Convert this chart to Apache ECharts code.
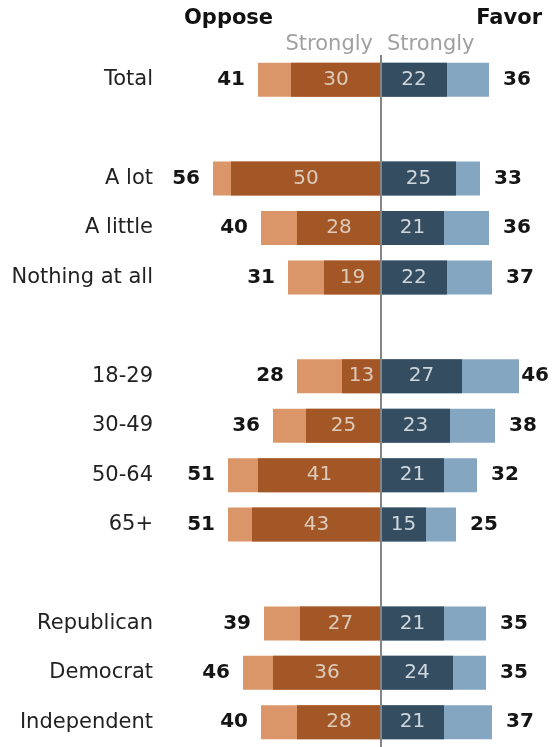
<!DOCTYPE html>
<html>
<head>
<meta charset="utf-8">
<script src="https://cdn.jsdelivr.net/npm/echarts@6/dist/echarts.min.js"></script>
<style>
  html, body { margin: 0; padding: 0; background: #fff; }
  #chart { width: 553px; height: 747px; }
</style>
</head>
<body>
<div id="chart"></div>
<script>
// Rows top to bottom; the blank names are spacer rows between groups
const categories = ['Total', ' ', 'A lot', 'A little', 'Nothing at all', '  ',
  '18-29', '30-49', '50-64', '65+', '   ', 'Republican', 'Democrat', 'Independent'];
const opposeTotal  = [41, null, 56, 40, 31, null, 28, 36, 51, 51, null, 39, 46, 40];
const opposeStrong = [30, null, 50, 28, 19, null, 13, 25, 41, 43, null, 27, 36, 28];
const favorStrong  = [22, null, 25, 21, 22, null, 27, 23, 21, 15, null, 21, 24, 21];
const favorTotal   = [36, null, 33, 36, 37, null, 46, 38, 32, 25, null, 35, 35, 37];

const FONT = 'DejaVu Sans';
const neg = arr => arr.map(v => v == null ? '-' : -v);
const pos = arr => arr.map(v => v == null ? '-' : v);

const chart = echarts.init(document.getElementById('chart'), null, { renderer: 'canvas' });

// Total bars are drawn first; the "strongly" bars sit on top of them in the same slot
const common = { type: 'bar', barWidth: 34, barGap: '-100%', silent: true, animation: false };

// Keep right-hand total labels from running off the canvas edge
const EDGE = 549;
const keepInside = p => {
  const r = p.labelRect;
  if (r.x + r.width <= EDGE) return {};
  return { x: EDGE - r.width, y: r.y + r.height / 2, align: 'left', verticalAlign: 'middle' };
};

chart.setOption({
  animation: false,
  textStyle: { fontFamily: FONT },
  grid: { left: 201, width: 330, top: 55, height: 694, containLabel: false },
  xAxis: {
    type: 'value', min: -60, max: 50,
    show: false
  },
  yAxis: {
    type: 'category', data: categories, inverse: true,
    axisLine: { show: false, onZero: false },
    axisTick: { show: false },
    splitLine: { show: false },
    axisLabel: { margin: 48, fontSize: 21, color: '#222', fontFamily: FONT }
  },
  graphic: [
    { type: 'text', left: 184, top: 8, style: { text: 'Oppose', font: 'bold 21px "DejaVu Sans"', fill: '#111' } },
    { type: 'text', right: 11, top: 8, style: { text: 'Favor', font: 'bold 21px "DejaVu Sans"', fill: '#111' } },
    { type: 'text', right: 553 - 373, top: 34, style: { text: 'Strongly', font: '21px "DejaVu Sans"', fill: '#a0a0a0' } },
    { type: 'text', left: 387, top: 34, style: { text: 'Strongly', font: '21px "DejaVu Sans"', fill: '#a0a0a0' } }
  ],
  series: [
    Object.assign({}, common, {
      name: 'Oppose',
      data: neg(opposeTotal),
      itemStyle: { color: '#da9669' },
      label: {
        show: true, position: 'left', distance: 13,
        formatter: p => Math.abs(p.value),
        fontSize: 20, fontWeight: 'bold', color: '#151515', fontFamily: FONT
      }
    }),
    Object.assign({}, common, {
      name: 'Oppose strongly',
      data: neg(opposeStrong),
      itemStyle: { color: '#a35726' },
      label: {
        show: true, position: 'inside',
        formatter: p => Math.abs(p.value),
        fontSize: 20, color: '#dccbbb', fontFamily: FONT
      }
    }),
    Object.assign({}, common, {
      name: 'Favor',
      data: pos(favorTotal),
      itemStyle: { color: '#84a6c1' },
      label: {
        show: true, position: 'right', distance: 14,
        fontSize: 20, fontWeight: 'bold', color: '#151515', fontFamily: FONT
      },
      labelLayout: keepInside
    }),
    Object.assign({}, common, {
      name: 'Favor strongly',
      data: pos(favorStrong),
      itemStyle: { color: '#344d60' },
      label: {
        show: true, position: 'inside',
        fontSize: 20, color: '#cfd6dc', fontFamily: FONT
      },
      // zero line dividing oppose and favor
      markLine: {
        silent: true, symbol: 'none', animation: false,
        label: { show: false },
        lineStyle: { color: '#858585', width: 2, type: 'solid' },
        data: [{ xAxis: 0 }]
      },
      z: 3
    })
  ]
});
</script>
</body>
</html>
